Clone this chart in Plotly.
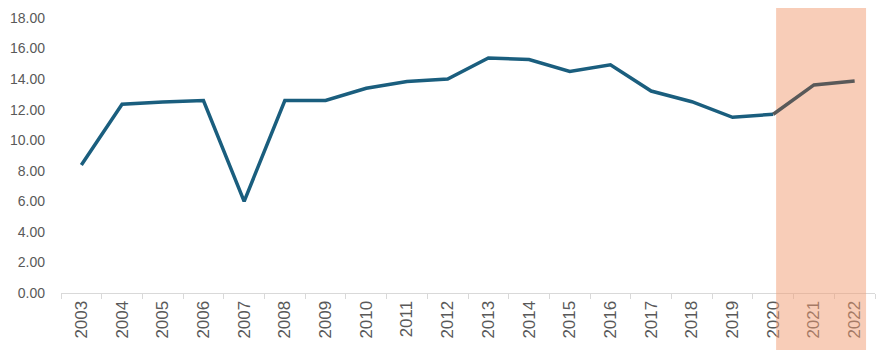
import plotly.graph_objects as go

years = [str(y) for y in range(2003, 2023)]
values = [8.38, 12.35, 12.5, 12.6, 6.0, 12.6, 12.6, 13.4, 13.85, 14.0,
          15.38, 15.28, 14.5, 14.94, 13.22, 12.52, 11.5, 11.7, 13.62, 13.87]
y_ticks = [0, 2, 4, 6, 8, 10, 12, 14, 16, 18]

split = years.index("2020")

fig = go.Figure()
fig.add_trace(go.Scatter(x=years[:split + 1], y=values[:split + 1], mode="lines",
                         line=dict(color="#1a5e7e", width=3.5), hoverinfo="skip",
                         showlegend=False))
fig.add_trace(go.Scatter(x=years[split:], y=values[split:], mode="lines",
                         line=dict(color="#595959", width=3.5), hoverinfo="skip",
                         showlegend=False))

fill = "rgba(241,155,113,0.5)"
# shaded forecast region (in category units)
fig.add_shape(type="rect", xref="x", yref="paper", x0=17.07, x1=19.28, y0=0, y1=1.036,
              fillcolor=fill, line=dict(width=0), layer="below")
fig.add_shape(type="rect", xref="x", yref="paper", x0=17.07, x1=19.28, y0=-0.207, y1=0,
              fillcolor=fill, line=dict(width=0), layer="above")

# page body has an 8px default margin, so the figure is sized to fit the window
fig.update_layout(
    width=885, height=348,
    margin=dict(l=53, r=18, t=10, b=63, autoexpand=False),
    plot_bgcolor="white", paper_bgcolor="white",
    font=dict(family="Liberation Sans, Arial, sans-serif", color="#595959", size=13),
)
fig.update_xaxes(type="category", range=[-0.5, 19.5], tickangle=-90, automargin=False,
                 showline=True, linecolor="#d9d9d9", linewidth=1,
                 ticks="outside", tickson="boundaries", ticklen=5, tickcolor="#d9d9d9",
                 showgrid=False, tickfont=dict(size=17, color="#595959"), fixedrange=True)
fig.update_yaxes(range=[0, 18], tickvals=y_ticks, tickformat=".2f", showgrid=False,
                 zeroline=False, showline=False, ticks="", ticklabelstandoff=15,
                 automargin=False,
                 tickfont=dict(size=14, color="#595959"), fixedrange=True)

fig.write_html("out.html")
